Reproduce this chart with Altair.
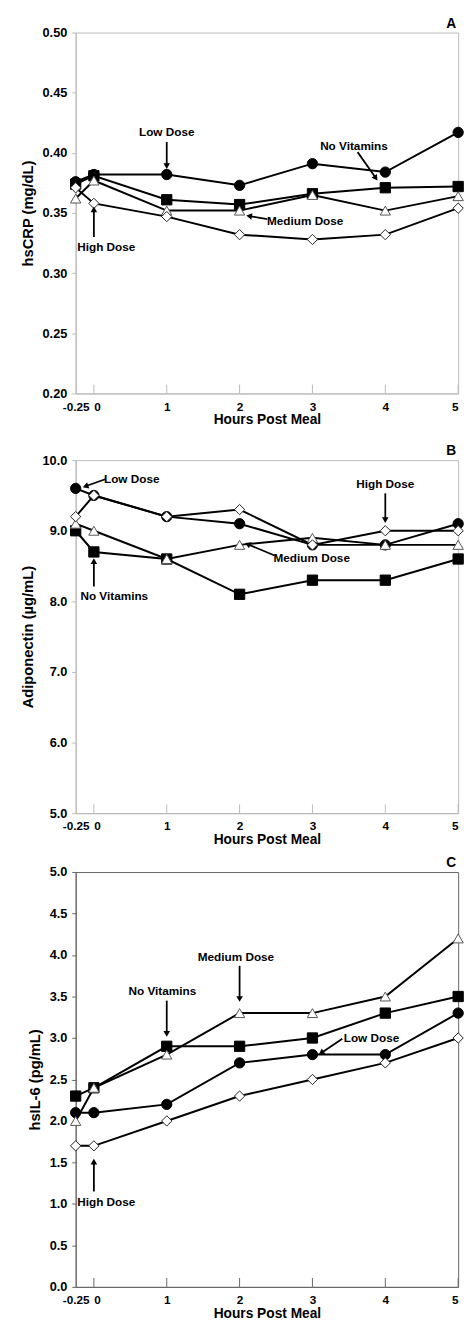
import math
import altair as alt
import pandas as pd

FONT = "Liberation Sans, Arial, sans-serif"

hours = [-0.25, 0, 1, 2, 3, 4, 5]
x_tick_marks = [0, 1, 2, 3, 4, 5]
x_label_values = [-0.25, 0, 1, 2, 3, 4, 5]
series = ["No Vitamins", "Low Dose", "Medium Dose", "High Dose"]

# Panel A: hsCRP (mg/dL)
crp_none = [0.374, 0.381, 0.361, 0.357, 0.366, 0.371, 0.372]
crp_low = [0.376, 0.382, 0.382, 0.373, 0.391, 0.384, 0.417]
crp_med = [0.362, 0.377, 0.352, 0.352, 0.365, 0.352, 0.364]
crp_high = [0.371, 0.358, 0.347, 0.332, 0.328, 0.332, 0.354]
crp_ticks = [0.20, 0.25, 0.30, 0.35, 0.40, 0.45, 0.50]

# Panel B: Adiponectin (ug/mL)
adi_none = [9.0, 8.7, 8.6, 8.1, 8.3, 8.3, 8.6]
adi_low = [9.6, 9.5, 9.2, 9.1, 8.8, 8.8, 9.1]
adi_med = [9.1, 9.0, 8.6, 8.8, 8.9, 8.8, 8.8]
adi_high = [9.2, 9.5, 9.2, 9.3, 8.8, 9.0, 9.0]
adi_ticks = [5.0, 5.5, 6.0, 6.5, 7.0, 7.5, 8.0, 8.5, 9.0, 9.5, 10.0]

# Panel C: hsIL-6 (pg/mL)
il6_none = [2.3, 2.4, 2.9, 2.9, 3.0, 3.3, 3.5]
il6_low = [2.1, 2.1, 2.2, 2.7, 2.8, 2.8, 3.3]
il6_med = [2.0, 2.4, 2.8, 3.3, 3.3, 3.5, 4.2]
il6_high = [1.7, 1.7, 2.0, 2.3, 2.5, 2.7, 3.0]
il6_ticks = [0.0, 0.5, 1.0, 1.5, 2.0, 2.5, 3.0, 3.5, 4.0, 4.5, 5.0]

# Annotations (label, text position, arrow start, arrow end)
ann_a_text = ["Low Dose", "No Vitamins", "Medium Dose", "High Dose"]
ann_a_x = [1.0, 3.57, 2.90, 0.17]
ann_a_y = [0.417, 0.4055, 0.343, 0.322]
arr_a_x1 = [1.0, 3.62, 2.38, 0.0]
arr_a_y1 = [0.409, 0.4006, 0.345, 0.330]
arr_a_x2 = [1.0, 3.87, 2.13, 0.0]
arr_a_y2 = [0.389, 0.379, 0.3475, 0.353]

ann_b_text = ["Low Dose", "High Dose", "Medium Dose", "No Vitamins"]
ann_b_x = [0.52, 4.0, 2.99, 0.28]
ann_b_y = [9.73, 9.66, 8.61, 8.07]
arr_b_x1 = [0.155, 4.0, 2.48, 0.0]
arr_b_y1 = [9.73, 9.53, 8.65, 8.21]
arr_b_x2 = [-0.115, 4.0, 2.11, 0.0]
arr_b_y2 = [9.63, 9.15, 8.81, 8.57]

ann_c_text = ["Medium Dose", "No Vitamins", "Low Dose", "High Dose"]
ann_c_x = [1.95, 0.94, 3.81, 0.17]
ann_c_y = [3.97, 3.56, 3.00, 1.02]
arr_c_x1 = [2.0, 1.0, 3.41, 0.0]
arr_c_y1 = [3.87, 3.45, 2.99, 1.15]
arr_c_x2 = [2.0, 1.0, 3.12, 0.0]
arr_c_y2 = [3.47, 3.05, 2.82, 1.51]

panel_letters = ["A", "B", "C"]

W = 390
XMIN, XMAX = -0.25, 5


def panel(values, ymin, ymax, yticks, yfmt, H, ytitle, letter,
          ann_text, ann_x, ann_y, ax1, ay1, ax2, ay2,
          axis_color, med_line_color):
    rows = []
    for s, vals in zip(series, values):
        for h, v in zip(hours, vals):
            rows.append({"series": s, "hour": h, "value": v})
    df = pd.DataFrame(rows)

    xs = alt.Scale(domain=[XMIN, XMAX], nice=False, zero=False)
    ys = alt.Scale(domain=[ymin, ymax], nice=False, zero=False)

    xaxis = alt.Axis(values=x_label_values, title="Hours Post Meal", ticks=False,
                     grid=False, labelOverlap=False, labelFlush=False,
                     domainColor=axis_color, labelPadding=8,
                     labelFont=FONT, labelFontWeight="bold", labelFontSize=12,
                     labelColor="black", titleFont=FONT, titleFontWeight="bold",
                     titleFontSize=14, titleColor="black", titlePadding=1,
                     labelAlign=alt.ExprRef(
                         "datum.value == 0 ? 'left' : (datum.value == 5 ? 'right' : 'center')"),
                     labelExpr="datum.value == -0.25 ? '-0.25' : format(datum.value, 'd')")
    yaxis = alt.Axis(values=yticks, title=ytitle, format=yfmt, grid=False,
                     labelOverlap=False, labelFlush=False,
                     domainColor=axis_color, tickColor=axis_color, tickSize=4,
                     labelPadding=5, labelFont=FONT, labelFontWeight="bold",
                     labelFontSize=13, labelColor="black", titleFont=FONT,
                     titleFontWeight="bold", titleFontSize=15, titleColor="black",
                     titlePadding=7)

    base = alt.Chart(df)
    lines = base.mark_line(strokeWidth=2).encode(
        x=alt.X("hour:Q", scale=xs, axis=xaxis),
        y=alt.Y("value:Q", scale=ys, axis=yaxis),
        color=alt.Color("series:N", scale=alt.Scale(domain=series,
                        range=["black", "black", med_line_color, "black"]), legend=None),
        detail="series:N",
    )
    points = base.mark_point(filled=True, strokeWidth=1, opacity=1).encode(
        x=alt.X("hour:Q", scale=xs),
        y=alt.Y("value:Q", scale=ys),
        shape=alt.Shape("series:N", scale=alt.Scale(domain=series,
                        range=["square", "circle", "triangle-up", "diamond"]), legend=None),
        fill=alt.Fill("series:N", scale=alt.Scale(domain=series,
                      range=["black", "black", "white", "white"]), legend=None),
        stroke=alt.Stroke("series:N", scale=alt.Scale(domain=series,
                          range=["black", "black", "#555555", "#222222"]), legend=None),
        size=alt.Size("series:N", scale=alt.Scale(domain=series,
                      range=[110, 110, 150, 140]), legend=None),
    )

    tick_df = pd.DataFrame({"t": x_tick_marks})
    ticks = alt.Chart(tick_df).mark_rule(color=axis_color, strokeWidth=1).encode(
        x=alt.X("t:Q", scale=xs),
        y=alt.value(H),
        y2=alt.value(H - 9),
    )

    sx = W / (XMAX - XMIN)
    sy = H / (ymax - ymin)
    angles = []
    for x1, y1, x2, y2 in zip(ax1, ay1, ax2, ay2):
        a = math.degrees(math.atan2((x2 - x1) * sx, (y2 - y1) * sy)) % 360
        angles.append(a)
    arr_df = pd.DataFrame({"x1": ax1, "y1": ay1, "x2": ax2, "y2": ay2, "angle": angles})
    arrows = alt.Chart(arr_df).mark_rule(color="black", strokeWidth=1.8).encode(
        x=alt.X("x1:Q", scale=xs), y=alt.Y("y1:Q", scale=ys),
        x2="x2:Q", y2="y2:Q",
    )
    heads = alt.Chart(arr_df).mark_point(shape="triangle-up", filled=True,
                                         color="black", size=45, opacity=1).encode(
        x=alt.X("x2:Q", scale=xs), y=alt.Y("y2:Q", scale=ys),
        angle=alt.Angle("angle:Q", scale=None),
    )
    txt_df = pd.DataFrame({"label": ann_text, "x": ann_x, "y": ann_y})
    texts = alt.Chart(txt_df).mark_text(font=FONT, fontWeight="bold", fontSize=12,
                                        color="black", baseline="middle").encode(
        x=alt.X("x:Q", scale=xs), y=alt.Y("y:Q", scale=ys), text="label:N",
    )
    letter_df = pd.DataFrame({"letter": [letter]})
    letter_mark = alt.Chart(letter_df).mark_text(
        font=FONT, fontWeight="bold", fontSize=14, color="black",
        align="center", baseline="bottom").encode(
        x=alt.value(W - 7), y=alt.value(-2), text="letter:N",
    )

    return alt.layer(ticks, lines, points, arrows, heads, texts, letter_mark).properties(
        width=W, height=H,
        view=alt.ViewBackground(stroke=axis_color, strokeWidth=1),
    )


pa = panel([crp_none, crp_low, crp_med, crp_high], 0.20, 0.50, crp_ticks, ".2f", 368,
           "hsCRP (mg/dL)", panel_letters[0], ann_a_text, ann_a_x, ann_a_y,
           arr_a_x1, arr_a_y1, arr_a_x2, arr_a_y2, "#bbbbbb", "black")
pb = panel([adi_none, adi_low, adi_med, adi_high], 5.0, 10.0, adi_ticks, ".1f", 360,
           "Adiponectin (µg/mL)", panel_letters[1], ann_b_text, ann_b_x, ann_b_y,
           arr_b_x1, arr_b_y1, arr_b_x2, arr_b_y2, "#bbbbbb", "black")
pc = panel([il6_none, il6_low, il6_med, il6_high], 0.0, 5.0, il6_ticks, ".1f", 423,
           "hsIL-6 (pg/mL)", panel_letters[2], ann_c_text, ann_c_x, ann_c_y,
           arr_c_x1, arr_c_y1, arr_c_x2, arr_c_y2, "#666666", "#888888")

chart = alt.vconcat(pa, alt.vconcat(pb, pc, spacing=8), spacing=16).properties(
    padding={"left": 12, "top": -5, "right": 0, "bottom": 0},
    background="white",
).configure_view(
    stroke="#bbbbbb",
)

chart.save("out.html", embed_options={"renderer": "svg", "actions": False})
